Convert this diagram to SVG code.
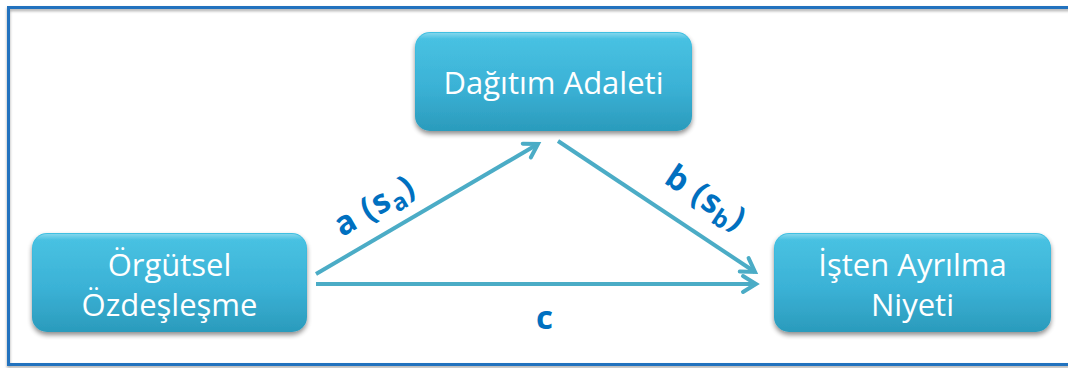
<svg xmlns="http://www.w3.org/2000/svg" width="1068" height="368" viewBox="0 0 1068 368">
<defs>
<linearGradient id="nodeGrad" x1="0" y1="0" x2="0" y2="1">
<stop offset="0" stop-color="#40C0E2"/>
<stop offset="0.55" stop-color="#36B0D5"/>
<stop offset="1" stop-color="#2B9BBC"/>
</linearGradient>
<linearGradient id="gloss" x1="0" y1="0" x2="0" y2="1">
<stop offset="0" stop-color="#FFFFFF" stop-opacity="0.35"/>
<stop offset="0.06" stop-color="#FFFFFF" stop-opacity="0.05"/>
<stop offset="1" stop-color="#FFFFFF" stop-opacity="0"/>
</linearGradient>
<filter id="shadow" x="-10%" y="-10%" width="120%" height="130%">
<feGaussianBlur in="SourceAlpha" stdDeviation="2.5"/>
<feOffset dx="0" dy="3" result="b"/>
<feComponentTransfer><feFuncA type="linear" slope="0.45"/></feComponentTransfer>
<feMerge><feMergeNode/><feMergeNode in="SourceGraphic"/></feMerge>
</filter>
<filter id="frameShadow" x="-5%" y="-5%" width="110%" height="110%">
<feGaussianBlur in="SourceAlpha" stdDeviation="1.5"/>
<feOffset dx="0" dy="2" result="b"/>
<feComponentTransfer><feFuncA type="linear" slope="0.35"/></feComponentTransfer>
<feMerge><feMergeNode/><feMergeNode in="SourceGraphic"/></feMerge>
</filter>
<marker id="arrow" markerUnits="userSpaceOnUse" markerWidth="24" markerHeight="24" refX="18" refY="12" orient="auto" viewBox="0 0 24 24">
<path d="M5 4 L18 12 L5 20" fill="none" stroke="#4BACC6" stroke-width="4" stroke-linecap="round" stroke-linejoin="miter"/>
</marker>
<style>
.node rect.body{fill:url(#nodeGrad);filter:url(#shadow);}
.node rect.gl{fill:url(#gloss);}
.node text{font-family:"Open Sans","Liberation Sans",sans-serif;font-size:31px;fill:#FFFFFF;text-anchor:middle;}
.conn{stroke:#4BACC6;stroke-width:4;fill:none;marker-end:url(#arrow);}
.lbl{font-family:"Open Sans","Liberation Sans",sans-serif;font-weight:bold;font-size:33px;fill:#0070C0;text-anchor:middle;letter-spacing:1px;}
</style>
</defs>
<rect x="0" y="0" width="1068" height="368" fill="#FFFFFF"/>
<path d="M1070 7.5 L8.5 7.5 L8.5 364.5 L1070 364.5" fill="none" stroke="#2272BE" stroke-width="3" filter="url(#frameShadow)"/>
<g id="connectors">
<line class="conn" x1="316" y1="274" x2="538" y2="144"/>
<line class="conn" x1="558" y1="141" x2="755" y2="272"/>
<line class="conn" x1="316" y1="284" x2="756" y2="284"/>
</g>
<g id="labels">
<text class="lbl" transform="translate(380,215) rotate(-30.3)">a (s<tspan font-size="24" dy="7">a</tspan><tspan dy="-7">)</tspan></text>
<text class="lbl" transform="translate(700,207) rotate(33.6)">b (s<tspan font-size="24" dy="7">b</tspan><tspan dy="-7">)</tspan></text>
<text class="lbl" x="545" y="329">c</text>
</g>
<g id="node-dagitim" class="node">
<rect class="body" x="415" y="32" width="277" height="99" rx="15"/>
<rect class="gl" x="416" y="33" width="275" height="97" rx="14"/>
<text x="553.5" y="94">Dağıtım Adaleti</text>
</g>
<g id="node-orgutsel" class="node">
<rect class="body" x="32" y="233" width="275" height="99" rx="15"/>
<rect class="gl" x="33" y="234" width="273" height="97" rx="14"/>
<text x="169.5" y="276">Örgütsel</text>
<text x="169.5" y="316">Özdeşleşme</text>
</g>
<g id="node-isten" class="node">
<rect class="body" x="774" y="233" width="277" height="99" rx="15"/>
<rect class="gl" x="775" y="234" width="275" height="97" rx="14"/>
<text x="912.5" y="276">İşten Ayrılma</text>
<text x="912.5" y="316">Niyeti</text>
</g>
</svg>
